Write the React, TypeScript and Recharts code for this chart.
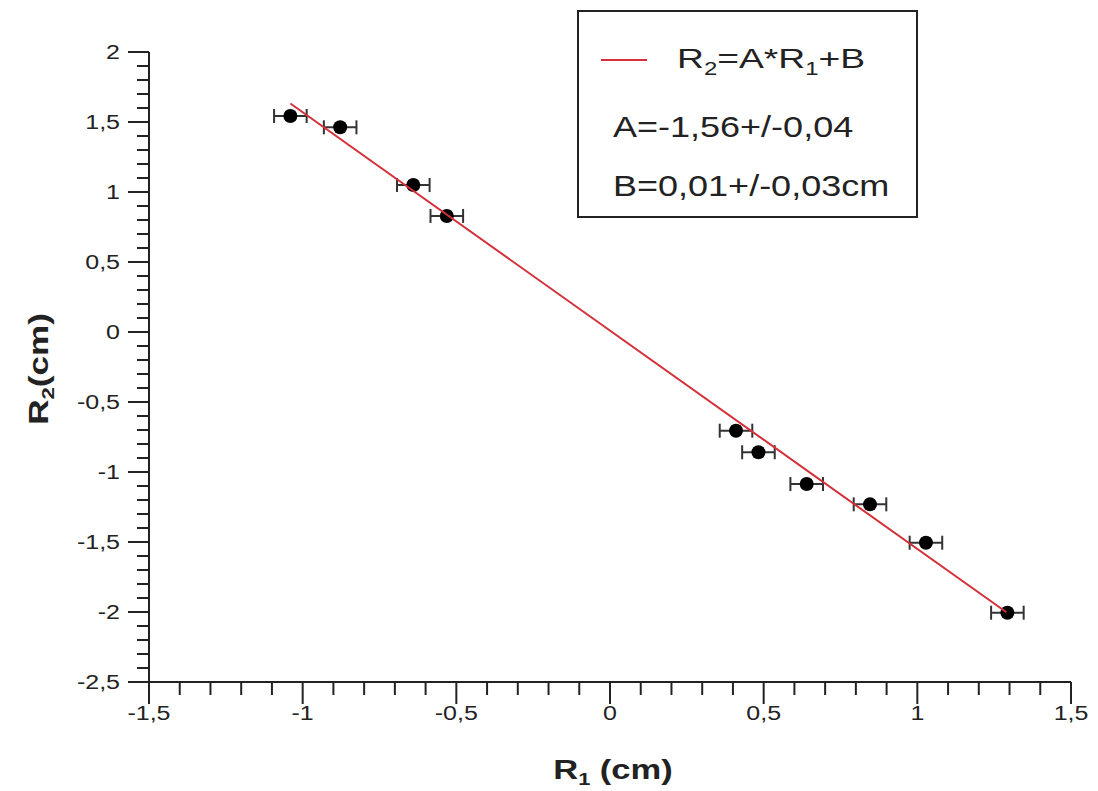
import { ErrorBar, Scatter, ScatterChart, XAxis, YAxis } from "recharts";

const r1Values = [-1.04, -0.878, -0.64, -0.531, 0.41, 0.483, 0.64, 0.846, 1.028, 1.293];
const r2Values = [1.543, 1.462, 1.05, 0.829, -0.705, -0.859, -1.086, -1.231, -1.505, -2.005];
const r1Errors = [0.053, 0.053, 0.053, 0.053, 0.053, 0.053, 0.053, 0.053, 0.053, 0.053];
const r2Errors = [0.03, 0.03, 0.03, 0.03, 0.03, 0.03, 0.03, 0.03, 0.03, 0.03];

const fitR1 = [-1.04, 1.29];
const fitR2 = [1.632, -2.002];

const xMajorTicks = [-1.5, -1, -0.5, 0, 0.5, 1, 1.5];
const yMajorTicks = [-2.5, -2, -1.5, -1, -0.5, 0, 0.5, 1, 1.5, 2];

const FONT = '"Liberation Sans", Arial, Helvetica, sans-serif';
const INK = "#222";
const RED = "#d4303a";
// the source picture is stretched sideways, so text is widened to match
const STRETCH = 1.25;

const points = r1Values.map((r1, i) => ({
  r1,
  r2: r2Values[i],
  ex: r1Errors[i],
  ey: r2Errors[i],
}));
const fitLine = fitR1.map((r1, i) => ({ r1, r2: fitR2[i] }));

// minor ticks every 0.1 between the majors
function withMinor(majors: number[]) {
  const lo = Math.min(...majors);
  const hi = Math.max(...majors);
  const out: number[] = [];
  for (let k = Math.round(lo * 10); k <= Math.round(hi * 10); k++) out.push(k / 10);
  return out;
}

const isMajor = (v: number) => Math.abs(v * 2 - Math.round(v * 2)) < 1e-6;
const fmt = (v: number) => String(v).replace(".", ",");

function XTick(props: any) {
  const { x, y, payload } = props;
  const major = isMajor(payload.value);
  return (
    <g>
      <line x1={x} x2={x} y1={y} y2={y + (major ? 22 : 13)} stroke={INK} strokeWidth={2} />
      {major && (
        <text
          transform={`translate(${x} ${y + 38}) scale(${STRETCH} 1)`}
          textAnchor="middle"
          fontSize={20}
          fill={INK}
          fontFamily={FONT}
        >
          {fmt(payload.value)}
        </text>
      )}
    </g>
  );
}

function YTick(props: any) {
  const { x, y, payload } = props;
  const major = isMajor(payload.value);
  return (
    <g>
      <line x1={x - (major ? 21 : 12)} x2={x} y1={y} y2={y} stroke={INK} strokeWidth={2} />
      {major && (
        <text
          transform={`translate(${x - 29} ${y + 7}) scale(${STRETCH} 1)`}
          textAnchor="end"
          fontSize={20}
          fill={INK}
          fontFamily={FONT}
        >
          {fmt(payload.value)}
        </text>
      )}
    </g>
  );
}

function Dot(props: any) {
  const { cx, cy } = props;
  return <circle cx={cx} cy={cy} r={7} fill="#000" />;
}

function FitBox() {
  const line = {
    position: "absolute" as const,
    whiteSpace: "nowrap" as const,
    transformOrigin: "left center",
    transform: "scaleX(1.2)",
  };
  return (
    <div
      style={{
        position: "absolute",
        left: 577,
        top: 10,
        boxSizing: "border-box",
        width: 341,
        height: 208,
        border: `2px solid ${INK}`,
        background: "#fff",
        fontFamily: FONT,
        color: INK,
      }}
    >
      <div style={{ position: "absolute", left: 22, top: 47, width: 46, height: 2, background: RED }} />
      <div style={{ ...line, transform: "scaleX(1.33)", left: 98, top: 30, fontSize: 28, lineHeight: "34px" }}>
        R<sub style={{ fontSize: 18 }}>2</sub>=A*R<sub style={{ fontSize: 18 }}>1</sub>+B
      </div>
      <div style={{ ...line, left: 34, top: 98, fontSize: 30, lineHeight: "34px" }}>A=-1,56+/-0,04</div>
      <div style={{ ...line, left: 34, top: 157, fontSize: 30, lineHeight: "34px" }}>B=0,01+/-0,03cm</div>
    </div>
  );
}

export default function App() {
  return (
    <div style={{ position: "absolute", left: 0, top: 0, width: 1098, height: 791, background: "#fff" }}>
      <ScatterChart width={1098} height={791} margin={{ top: 52, right: 27, bottom: 49, left: 49 }}>
        <XAxis
          type="number"
          dataKey="r1"
          domain={[-1.5, 1.5]}
          ticks={withMinor(xMajorTicks)}
          interval={0}
          height={60}
          tickSize={0}
          tickMargin={0}
          tickLine={false}
          tick={<XTick />}
          axisLine={{ stroke: INK, strokeWidth: 2 }}
          allowDataOverflow
          label={{
            content: (p: any) => {
              const vb = p.viewBox;
              const cx = vb.x + vb.width / 2 + 3;
              return (
                <text
                  transform={`translate(${cx} ${vb.y + 97}) scale(1.28 1)`}
                  textAnchor="middle"
                  fontSize={27}
                  fontWeight="bold"
                  fill={INK}
                  fontFamily={FONT}
                >
                  R<tspan fontSize={17} dy={6}>1</tspan>
                  <tspan dy={-6}> (cm)</tspan>
                </text>
              );
            },
          }}
        />
        <YAxis
          type="number"
          dataKey="r2"
          domain={[-2.5, 2]}
          ticks={withMinor(yMajorTicks)}
          interval={0}
          width={100}
          tickSize={0}
          tickMargin={0}
          tickLine={false}
          tick={<YTick />}
          axisLine={{ stroke: INK, strokeWidth: 2 }}
          allowDataOverflow
          label={{
            content: (p: any) => {
              const vb = p.viewBox;
              const cx = 48;
              const cy = vb.y + vb.height / 2 + 2;
              return (
                <text
                  transform={`translate(${cx} ${cy}) rotate(-90) scale(1.3 1)`}
                  textAnchor="middle"
                  fontSize={27}
                  fontWeight="bold"
                  fill={INK}
                  fontFamily={FONT}
                >
                  R<tspan fontSize={17} dy={6}>2</tspan>
                  <tspan dy={-6}>(cm)</tspan>
                </text>
              );
            },
          }}
        />
        <Scatter data={points} shape={<Dot />} isAnimationActive={false} legendType="none">
          <ErrorBar dataKey="ex" direction="x" width={7} stroke="#333" strokeWidth={2} isAnimationActive={false} />
          <ErrorBar dataKey="ey" direction="y" width={5} stroke="#333" strokeWidth={2} isAnimationActive={false} />
        </Scatter>
        <Scatter
          data={fitLine}
          line={{ stroke: RED, strokeWidth: 2 }}
          shape={() => <g />}
          isAnimationActive={false}
          legendType="none"
        />
      </ScatterChart>
      <FitBox />
    </div>
  );
}
